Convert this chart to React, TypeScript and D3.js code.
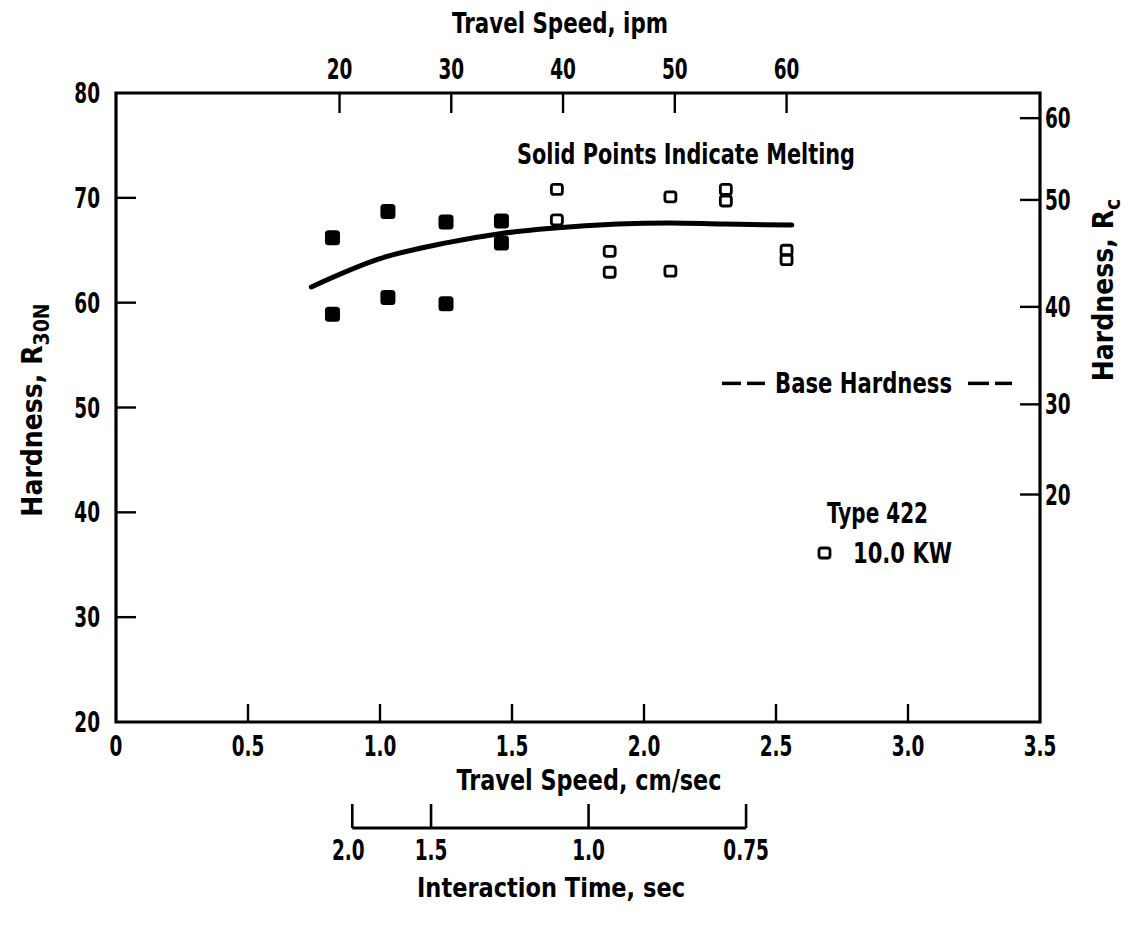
import React from 'react';
import * as d3 from 'd3';

const W = 1137;
const H = 925;
const FONT = '"DejaVu Sans", "Liberation Sans", sans-serif';

// Bottom axis: travel speed, cm/sec
const speedTicks = [0, 0.5, 1.0, 1.5, 2.0, 2.5, 3.0, 3.5];
const speedTickLabels = ['0', '0.5', '1.0', '1.5', '2.0', '2.5', '3.0', '3.5'];
// Top axis: travel speed, ipm
const ipmTicks = [20, 30, 40, 50, 60];
// Left axis: hardness R30N
const hardnessTicks = [20, 30, 40, 50, 60, 70, 80];
// Right axis: hardness Rc (with equivalent R30N values)
const rcTicks = [20, 30, 40, 50, 60];
const rcAsR30N = [41.7, 50.3, 59.6, 69.8, 77.6];
// Lower auxiliary axis: interaction time, sec
const interactionTicks = [2.0, 1.5, 1.0, 0.75];
const interactionTickLabels = ['2.0', '1.5', '1.0', '0.75'];
const beamDiameterCm = 1.79;

// Solid points (melting)
const meltedSpeed = [0.82, 1.03, 1.25, 1.46, 0.82, 1.03, 1.25, 1.46];
const meltedHardness = [66.2, 68.7, 67.7, 67.8, 58.9, 60.5, 59.9, 65.7];
// Open points (10.0 KW)
const openSpeed = [1.67, 1.67, 1.87, 1.87, 2.1, 2.1, 2.31, 2.31, 2.54, 2.54];
const openHardness = [70.8, 67.9, 64.9, 62.9, 70.1, 63.0, 70.8, 69.7, 65.0, 64.1];
// Fitted curve
const fitSpeed = [0.74, 1.0, 1.25, 1.46, 1.65, 1.9, 2.1, 2.3, 2.56];
const fitHardness = [61.5, 64.2, 65.7, 66.6, 67.1, 67.5, 67.6, 67.5, 67.4];

const baseHardness = 52.3;

const TICK_FS = 28;
const TICK_SX = 0.66;
const TITLE_FS = 28;

function TickLabel({ x, y, anchor, children }: { x: number; y: number; anchor: string; children: React.ReactNode }) {
  return (
    <text transform={`translate(${x},${y}) scale(${TICK_SX},1)`} textAnchor={anchor} fontSize={TICK_FS}>
      {children}
    </text>
  );
}

function Label({ x, y, w, anchor = 'middle', size = TITLE_FS, children }: { x: number; y: number; w: number; anchor?: string; size?: number; children: React.ReactNode }) {
  return (
    <text x={x} y={y} textAnchor={anchor} fontSize={size} textLength={w} lengthAdjust="spacingAndGlyphs">
      {children}
    </text>
  );
}

export default function App() {
  const x = d3.scaleLinear().domain([0, 3.5]).range([116, 1040]);
  const y = d3.scaleLinear().domain([20, 80]).range([722, 93]);
  const rcToR30N = d3.scaleLinear().domain(rcTicks).range(rcAsR30N);
  const ipmToCm = (ipm: number) => (ipm * 2.54) / 60;

  const left = x(0);
  const right = x(3.5);
  const top = y(80);
  const bottom = y(20);

  const line = d3
    .line<number>()
    .x((_, i) => x(fitSpeed[i]))
    .y((_, i) => y(fitHardness[i]))
    .curve(d3.curveCatmullRom);

  const itY = 828;
  const itX0 = x(beamDiameterCm / interactionTicks[0]);
  const itX1 = x(beamDiameterCm / interactionTicks[interactionTicks.length - 1]);

  const by = y(baseHardness);

  return (
    <svg width={W} height={H} style={{ position: 'absolute', left: 0, top: 0, background: '#fff' }}
      fontFamily={FONT} fontWeight="bold">
      <rect x={0} y={0} width={W} height={H} fill="#fff" />
      {/* frame */}
      <path d={`M${left},${top}H${right}V${bottom}H${left}Z`} fill="none" stroke="#000" strokeWidth={3.2} />

      {/* bottom ticks */}
      {speedTicks.map((t, i) => (
        <g key={'b' + i}>
          {i > 0 && i < speedTicks.length - 1 && (
            <line x1={x(t)} x2={x(t)} y1={bottom} y2={bottom - 18} stroke="#000" strokeWidth={2.4} />
          )}
          <TickLabel x={x(t)} y={bottom + 34} anchor="middle">{speedTickLabels[i]}</TickLabel>
        </g>
      ))}
      <Label x={589} y={790} w={265}>Travel Speed, cm/sec</Label>

      {/* top ticks (ipm) */}
      {ipmTicks.map((t, i) => (
        <g key={'t' + i}>
          <line x1={x(ipmToCm(t))} x2={x(ipmToCm(t))} y1={top} y2={top + 20} stroke="#000" strokeWidth={2.4} />
          <TickLabel x={x(ipmToCm(t))} y={top - 14} anchor="middle">{t}</TickLabel>
        </g>
      ))}
      <Label x={560} y={33} w={216}>Travel Speed, ipm</Label>

      {/* left ticks */}
      {hardnessTicks.map((t, i) => (
        <g key={'l' + i}>
          {i > 0 && i < hardnessTicks.length - 1 && (
            <line x1={left} x2={left + 20} y1={y(t)} y2={y(t)} stroke="#000" strokeWidth={2.4} />
          )}
          <TickLabel x={left - 16} y={y(t) + 10} anchor="end">{t}</TickLabel>
        </g>
      ))}
      <text transform={`translate(42,410) rotate(-90) scale(0.9,1)`} textAnchor="middle" fontSize={TITLE_FS}>
        Hardness, R<tspan dy={7} fontSize={21}>30N</tspan>
      </text>

      {/* right ticks (Rc) */}
      {rcTicks.map((t, i) => {
        const yy = y(rcToR30N(t));
        return (
          <g key={'r' + i}>
            <line x1={right} x2={right - 20} y1={yy} y2={yy} stroke="#000" strokeWidth={2.4} />
            <TickLabel x={right + 5} y={yy + 10} anchor="start">{t}</TickLabel>
          </g>
        );
      })}
      <text transform={`translate(1113,290) rotate(-90) scale(0.9,1)`} textAnchor="middle" fontSize={TITLE_FS}>
        Hardness, R<tspan dy={7} fontSize={21}>c</tspan>
      </text>

      {/* interaction time axis */}
      <line x1={itX0} x2={itX1} y1={itY} y2={itY} stroke="#000" strokeWidth={3} />
      {interactionTicks.map((t, i) => (
        <g key={'it' + i}>
          <line x1={x(beamDiameterCm / t)} x2={x(beamDiameterCm / t)} y1={itY} y2={itY - 24} stroke="#000" strokeWidth={2.6} />
          <TickLabel x={x(beamDiameterCm / t) - (i === 0 ? 4 : 0)} y={itY + 32} anchor="middle">{interactionTickLabels[i]}</TickLabel>
        </g>
      ))}
      <Label x={551} y={itY + 69} w={268} size={27}>Interaction Time, sec</Label>

      {/* fitted curve */}
      <path d={line(fitSpeed) || ''} fill="none" stroke="#000" strokeWidth={5} strokeLinecap="round" />

      {/* melted points */}
      {meltedSpeed.map((s, i) => (
        <rect key={'m' + i} x={x(s) - 7.5} y={y(meltedHardness[i]) - 7.5} width={15} height={15} rx={3.5} fill="#000" />
      ))}
      {/* open points */}
      {openSpeed.map((s, i) => (
        <rect key={'o' + i} x={x(s) - 5.5} y={y(openHardness[i]) - 5} width={11} height={10} rx={2.5}
          fill="none" stroke="#000" strokeWidth={2.8} />
      ))}

      {/* annotations */}
      <Label x={517} y={164} w={338} anchor="start">Solid Points Indicate Melting</Label>

      <line x1={722} x2={741} y1={by} y2={by} stroke="#000" strokeWidth={3.5} />
      <line x1={747} x2={765} y1={by} y2={by} stroke="#000" strokeWidth={3.5} />
      <Label x={775} y={by + 10} w={177} anchor="start">Base Hardness</Label>
      <line x1={968} x2={989} y1={by} y2={by} stroke="#000" strokeWidth={3.5} />
      <line x1={995} x2={1012} y1={by} y2={by} stroke="#000" strokeWidth={3.5} />

      <Label x={827} y={523} w={101} anchor="start">Type 422</Label>
      <rect x={819} y={548} width={11} height={10} rx={2.5} fill="none" stroke="#000" strokeWidth={2.8} />
      <Label x={853} y={563} w={99} anchor="start">10.0 KW</Label>
    </svg>
  );
}
